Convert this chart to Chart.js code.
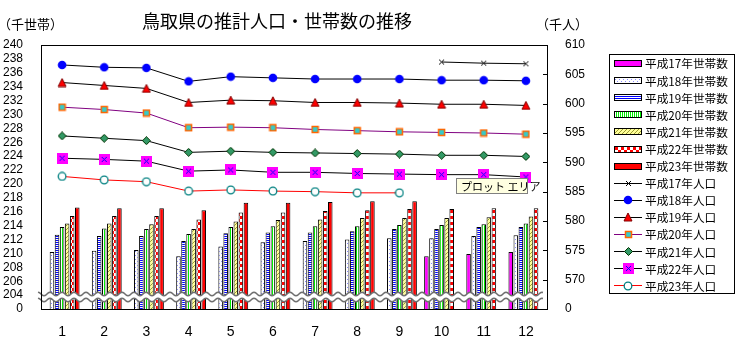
<!DOCTYPE html>
<html>
<head>
<meta charset="utf-8">
<script src="https://cdn.jsdelivr.net/npm/chart.js@4.4.1/dist/chart.umd.min.js"></script>
<style>
  html, body { margin: 0; padding: 0; background: #fff; }
  #wrap { width: 737px; height: 342px; }
</style>
</head>
<body>
<div id="wrap"><canvas id="chart" width="737" height="342"></canvas></div>
<script>
const months = ['1', '2', '3', '4', '5', '6', '7', '8', '9', '10', '11', '12'];

// 世帯数 (千世帯)
const hh17 = [null, null, null, null, null, null, null, null, null, 209.6, 209.9, 210.2];
const hh18 = [210.2, 210.4, 210.5, 209.6, 211.0, 211.6, 211.8, 212.0, 212.2, 212.2, 212.5, 212.6];
const hh19 = [212.7, 212.5, 212.5, 211.8, 212.9, 213.0, 213.0, 213.2, 213.5, 213.5, 213.8, 213.8];
const hh20 = [213.8, 213.6, 213.5, 212.8, 213.8, 213.9, 213.9, 213.9, 214.1, 214.1, 214.2, 214.3];
const hh21 = [214.3, 214.3, 214.2, 213.5, 214.6, 214.8, 214.9, 215.1, 215.1, 215.1, 215.2, 215.3];
const hh22 = [215.4, 215.4, 215.4, 214.9, 215.9, 215.9, 216.1, 216.2, 216.4, 216.4, 216.5, 216.5];
const hh23 = [216.6, 216.5, 216.5, 216.2, 217.3, 217.3, 217.4, 217.5, 217.5, null, null, null];

// 人口 (千人)
const pop17 = [null, null, null, null, null, null, null, null, null, 607.1, 606.9, 606.8];
const pop18 = [606.6, 606.2, 606.1, 603.8, 604.6, 604.4, 604.2, 604.2, 604.2, 604.0, 604.0, 603.9];
const pop19 = [603.6, 603.1, 602.6, 600.2, 600.6, 600.5, 600.2, 600.2, 600.1, 599.9, 599.9, 599.7];
const pop20 = [599.4, 599.0, 598.4, 595.9, 596.0, 595.9, 595.6, 595.4, 595.2, 595.1, 595.0, 594.8];
const pop21 = [594.5, 594.1, 593.7, 591.7, 591.9, 591.7, 591.6, 591.5, 591.4, 591.2, 591.2, 591.0];
const pop22 = [590.7, 590.5, 590.2, 588.5, 588.7, 588.3, 588.3, 588.1, 588.0, 587.9, 587.9, 587.5];
const pop23 = [587.6, 587.0, 586.7, 585.1, 585.3, 585.1, 585.0, 584.8, 584.8, null, null, null];

const hhLabels = ['平成17年世帯数', '平成18年世帯数', '平成19年世帯数', '平成20年世帯数', '平成21年世帯数', '平成22年世帯数', '平成23年世帯数'];
const popLabels = ['平成17年人口', '平成18年人口', '平成19年人口', '平成20年人口', '平成21年人口', '平成22年人口', '平成23年人口'];

// left axis starts at 202 but is shown as "0" (axis break), same for right axis at 565
const leftMin = 202, leftMax = 240, leftStep = 2;
const rightMin = 565, rightMax = 610, rightStep = 5;

const JP = '"Noto Sans CJK JP", sans-serif';
const NUM = '"Liberation Sans", Arial, sans-serif';

function makeCanvas(w, h, draw) {
  const c = document.createElement('canvas');
  c.width = w; c.height = h;
  draw(c.getContext('2d'), w, h);
  return c;
}

const ctx0 = document.createElement('canvas').getContext('2d');
function pattern(w, h, draw) {
  return ctx0.createPattern(makeCanvas(w, h, draw), 'repeat');
}

// bar fills (Excel style patterns)
const fills = [
  '#ff00ff',
  pattern(4, 4, (g) => { g.fillStyle = '#fff'; g.fillRect(0, 0, 4, 4); g.fillStyle = '#8888ff'; g.fillRect(1, 1, 1, 1); g.fillRect(3, 3, 1, 1); }),
  pattern(2, 2, (g) => { g.fillStyle = '#fff'; g.fillRect(0, 0, 2, 2); g.fillStyle = '#0000ff'; g.fillRect(0, 0, 2, 1); }),
  pattern(2, 2, (g) => { g.fillStyle = '#fff'; g.fillRect(0, 0, 2, 2); g.fillStyle = '#00ee00'; g.fillRect(0, 0, 1, 2); }),
  pattern(4, 4, (g) => { g.fillStyle = '#ffff99'; g.fillRect(0, 0, 4, 4); g.fillStyle = '#999933'; for (let i = 0; i < 4; i++) g.fillRect(i, 3 - i, 1, 1); }),
  pattern(6, 6, (g) => { g.fillStyle = '#fff'; g.fillRect(0, 0, 6, 6); g.fillStyle = '#ff0000'; g.fillRect(0, 0, 3, 3); g.fillRect(3, 3, 3, 3); }),
  '#ff0000'
];

// point markers
const markers = [
  makeCanvas(9, 9, (g) => { g.strokeStyle = '#000'; g.lineWidth = 1; g.beginPath(); g.moveTo(2, 2); g.lineTo(7, 7); g.moveTo(7, 2); g.lineTo(2, 7); g.stroke(); }),
  makeCanvas(10, 10, (g) => { g.fillStyle = '#0000ff'; g.beginPath(); g.arc(5, 5, 4.3, 0, Math.PI * 2); g.fill(); }),
  makeCanvas(10, 10, (g) => { g.fillStyle = '#ff0000'; g.strokeStyle = '#800000'; g.beginPath(); g.moveTo(5, 1); g.lineTo(9, 9); g.lineTo(1, 9); g.closePath(); g.fill(); g.stroke(); }),
  makeCanvas(9, 9, (g) => { g.fillStyle = '#33cccc'; g.fillRect(1, 1, 7, 7); g.strokeStyle = '#ff6600'; g.lineWidth = 1.5; g.strokeRect(1.5, 1.5, 6, 6); }),
  makeCanvas(9, 9, (g) => { g.fillStyle = '#339966'; g.strokeStyle = '#003300'; g.beginPath(); g.moveTo(4.5, 0.5); g.lineTo(8.5, 4.5); g.lineTo(4.5, 8.5); g.lineTo(0.5, 4.5); g.closePath(); g.fill(); g.stroke(); }),
  makeCanvas(11, 11, (g) => { g.fillStyle = '#ff00ff'; g.fillRect(0, 0, 11, 11); g.strokeStyle = '#0000ff'; g.lineWidth = 1; g.beginPath(); g.moveTo(3, 3); g.lineTo(8, 8); g.moveTo(8, 3); g.lineTo(3, 8); g.stroke(); }),
  makeCanvas(10, 10, (g) => { g.fillStyle = '#fff'; g.strokeStyle = '#008080'; g.lineWidth = 1.3; g.beginPath(); g.arc(5, 5, 3.8, 0, Math.PI * 2); g.fill(); g.stroke(); })
];
const lineColors = ['#000000', '#000000', '#000000', '#800080', '#000000', '#000000', '#ff0000'];

const hhData = [hh17, hh18, hh19, hh20, hh21, hh22, hh23];
const popData = [pop17, pop18, pop19, pop20, pop21, pop22, pop23];

const datasets = [];
hhData.forEach((d, i) => {
  datasets.push({
    type: 'bar', label: hhLabels[i], data: d, yAxisID: 'y',
    backgroundColor: fills[i], borderColor: '#000', borderWidth: 1,
    categoryPercentage: 0.84, barPercentage: 0.9
  });
});
popData.forEach((d, i) => {
  datasets.push({
    type: 'line', label: popLabels[i], data: d, yAxisID: 'y1',
    borderColor: lineColors[i], borderWidth: 1, fill: false, tension: 0,
    pointStyle: markers[i], pointRadius: 5, spanGaps: false
  });
});

// titles, frame, axis break, legend, Excel tooltip box
const decor = {
  id: 'decor',
  afterDatasetsDraw(chart) {
    const { ctx, chartArea: a } = chart;
    ctx.save();
    // wavy axis break
    const cy = a.bottom - 12;
    const wave = (x) => Math.sin((x - a.left) / 12 * Math.PI * 2) * 1.8;
    const x0 = a.left - 3, x1 = a.right - 4;
    ctx.beginPath();
    for (let x = x0; x <= x1; x++) ctx.lineTo(x, cy - 3 + wave(x));
    for (let x = x1; x >= x0; x--) ctx.lineTo(x, cy + 3 + wave(x));
    ctx.closePath();
    ctx.fillStyle = '#fff';
    ctx.fill();
    ctx.strokeStyle = '#707070';
    ctx.lineWidth = 1.6;
    [-3, 3].forEach(off => {
      ctx.beginPath();
      for (let x = x0; x <= x1; x++) ctx.lineTo(x, cy + off + wave(x));
      ctx.stroke();
    });
    ctx.restore();
  },
  afterDraw(chart) {
    const { ctx, chartArea: a } = chart;
    ctx.save();
    // plot frame
    ctx.strokeStyle = '#000';
    ctx.lineWidth = 1;
    ctx.strokeRect(Math.round(a.left) + 0.5, Math.round(a.top) + 0.5, Math.round(a.right - a.left), Math.round(a.bottom - a.top));
    // inside ticks on right axis
    const r = chart.scales.y1;
    r.ticks.forEach(t => {
      const y = Math.round(r.getPixelForValue(t.value)) + 0.5;
      ctx.beginPath(); ctx.moveTo(a.right - 4, y); ctx.lineTo(a.right, y); ctx.stroke();
    });

    // titles
    ctx.fillStyle = '#000';
    ctx.textBaseline = 'middle';
    ctx.font = '18px ' + JP;
    ctx.textAlign = 'center';
    ctx.fillText('鳥取県の推計人口・世帯数の推移', 277, 21);
    ctx.font = '13px ' + JP;
    ctx.textAlign = 'left';
    ctx.fillText('（千世帯）', -2, 24);
    ctx.fillText('（千人）', 536, 24);

    // Excel hover tip
    ctx.fillStyle = '#ffffe1';
    ctx.fillRect(456, 178, 72, 16);
    ctx.strokeStyle = '#808080';
    ctx.strokeRect(456.5, 178.5, 71, 15);
    ctx.fillStyle = '#000';
    ctx.font = '11px ' + JP;
    ctx.fillText('プロット エリア', 461, 186.5);

    // legend
    const lx = 609, ly = 54, lw = 125, lh = 239;
    ctx.strokeStyle = '#000';
    ctx.lineWidth = 1;
    ctx.strokeRect(lx + 0.5, ly + 0.5, lw, lh);
    ctx.font = '13px ' + JP;
    const fitSize = 13 * 83 / ctx.measureText(hhLabels[0]).width;
    ctx.font = fitSize.toFixed(2) + 'px ' + JP;
    chart.data.datasets.forEach((ds, i) => {
      const y = 63 + i * 17.1;
      if (ds.type === 'bar') {
        ctx.fillStyle = ds.backgroundColor;
        ctx.fillRect(614, Math.round(y) - 3, 28, 7);
        ctx.strokeStyle = '#000';
        ctx.strokeRect(614.5, Math.round(y) - 2.5, 27, 6);
      } else {
        ctx.strokeStyle = ds.borderColor;
        ctx.beginPath(); ctx.moveTo(614, Math.round(y) + 0.5); ctx.lineTo(642, Math.round(y) + 0.5); ctx.stroke();
        const m = ds.pointStyle;
        ctx.drawImage(m, Math.round(628 - m.width / 2), Math.round(y - m.height / 2 + 0.5));
      }
      ctx.fillStyle = '#000';
      ctx.fillText(ds.label, 645, y + 1);
    });
    ctx.restore();
  }
};

new Chart(document.getElementById('chart'), {
  type: 'bar',
  data: { labels: months, datasets },
  options: {
    responsive: false,
    animation: false,
    events: [],
    layout: { padding: { top: 45, right: 140, left: 0, bottom: 0 } },
    plugins: { legend: { display: false }, tooltip: { enabled: false }, title: { display: false } },
    scales: {
      x: {
        grid: { display: false },
        border: { display: true, color: '#000' },
        ticks: { color: '#000', font: { family: NUM, size: 14 }, padding: 7 },
        afterFit: (s) => { s.height = 33; }
      },
      y: {
        position: 'left',
        min: leftMin, max: leftMax,
        grid: { display: false },
        border: { display: true, color: '#000' },
        ticks: {
          stepSize: leftStep, color: '#000', padding: 10, autoSkip: false,
          font: { family: NUM, size: 12 },
          callback: (v) => v === leftMin ? '0' : v
        },
        afterFit: (s) => { s.width = 41; }
      },
      y1: {
        position: 'right',
        min: rightMin, max: rightMax,
        grid: { display: false },
        border: { display: true, color: '#000' },
        ticks: {
          stepSize: rightStep, color: '#000', padding: 10, autoSkip: false,
          font: { family: NUM, size: 12 },
          callback: (v) => v === rightMin ? '0' : v
        },
        afterFit: (s) => { s.width = 50; }
      }
    }
  },
  plugins: [decor]
});
</script>
</body>
</html>
